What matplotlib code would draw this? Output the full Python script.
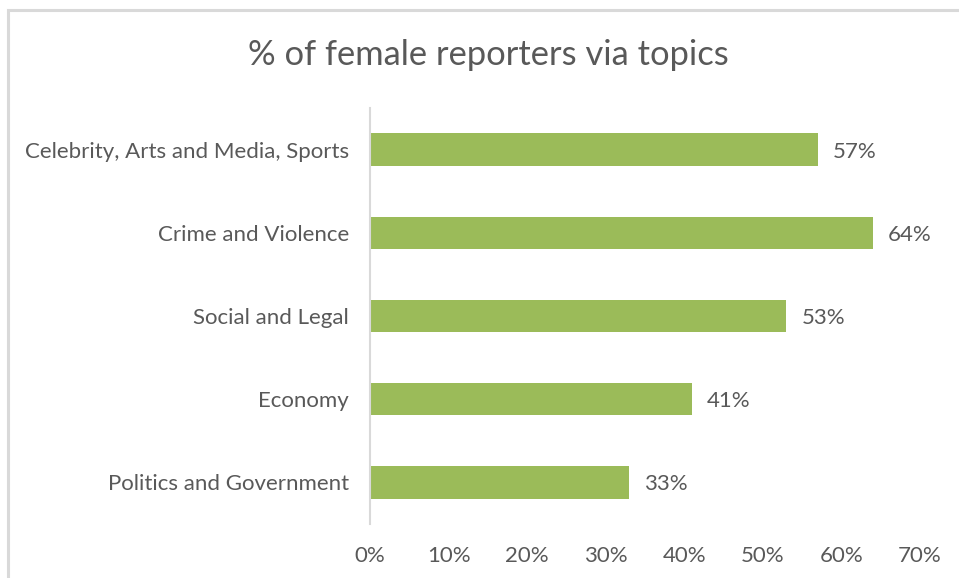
import matplotlib.pyplot as plt
from matplotlib.patches import Rectangle

plt.rcParams['font.family'] = ['Lato', 'DejaVu Sans']

topics = ['Celebrity, Arts and Media, Sports', 'Crime and Violence',
          'Social and Legal', 'Economy', 'Politics and Government']
female_pct = [57, 64, 53, 41, 33]
x_ticks = [0, 10, 20, 30, 40, 50, 60, 70]

text_col = '#595959'
bar_col = '#9BBB59'
line_col = '#D9D9D9'

fig = plt.figure(figsize=(9.59, 5.78), dpi=100)
ax = fig.add_axes([370 / 959, 1 - 524 / 578, 550 / 959, 416 / 578])

# chart frame (only top and left edges visible in the crop)
fig.patches.append(Rectangle((8 / 959, -0.1), 1.2, 1.1 - 10 / 578,
                             transform=fig.transFigure, fill=False,
                             edgecolor=line_col, linewidth=2.2))

ypos = range(len(topics))
ax.barh(ypos, female_pct, height=0.39, color=bar_col)
for y, v in zip(ypos, female_pct):
    ax.text(v + 1.9, y, f'{v}%', va='center_baseline', ha='left',
            fontsize=16, color=text_col)

ax.set_xlim(0, 70)
ax.set_ylim(len(topics) - 0.5, -0.5)
ax.set_yticks(list(ypos))
ax.set_yticklabels(topics)
ax.set_xticks(x_ticks)
ax.set_xticklabels([f'{t}%' for t in x_ticks])
ax.tick_params(axis='both', length=0, labelsize=16, labelcolor=text_col)
ax.tick_params(axis='y', pad=15)
ax.tick_params(axis='x', pad=16)

for s in ['top', 'right', 'bottom']:
    ax.spines[s].set_visible(False)
ax.spines['left'].set_color(line_col)
ax.spines['left'].set_linewidth(1.5)

fig.text(488 / 959, 1 - 55 / 578, '% of female reporters via topics',
         ha='center', va='center', fontsize=24.8, color=text_col)

fig.savefig('out.png', dpi=100, facecolor='white')
